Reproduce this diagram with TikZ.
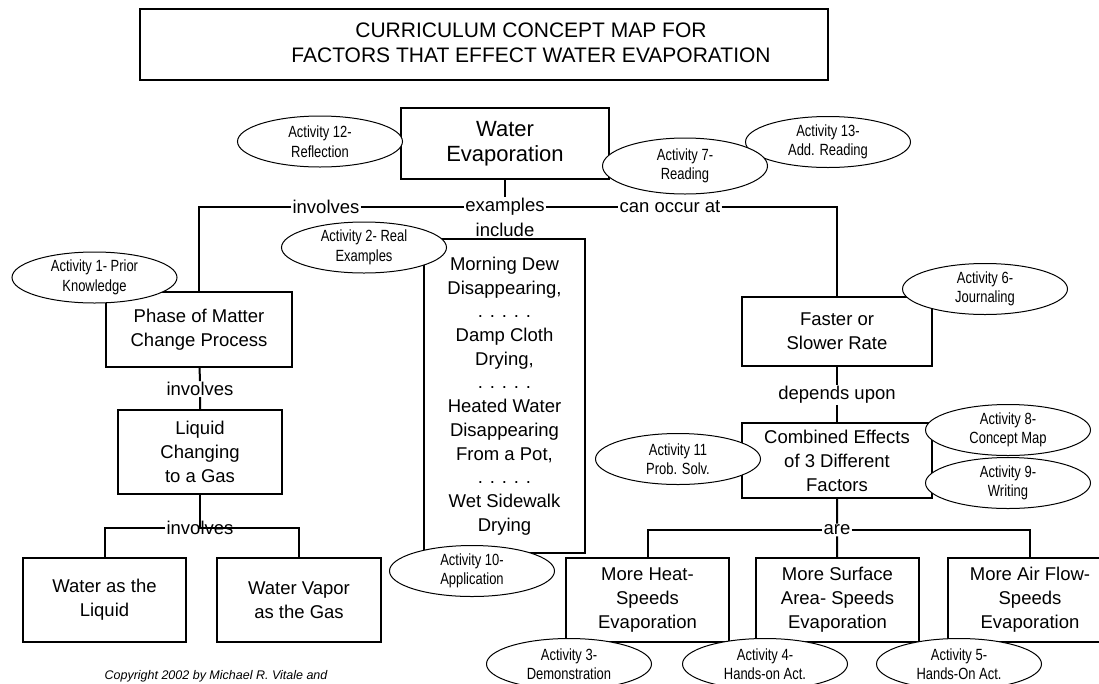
\documentclass[tikz,border=0pt]{standalone}
\usepackage{fontspec}
\setmainfont{Liberation Sans}
\newfontfamily\narrowfont[FakeStretch=0.8]{Liberation Sans}
\usetikzlibrary{shapes}

\begin{document}
\begin{tikzpicture}[x=1pt,y=-1pt]
        \tikzset{EdgeStyle/.style={line width=2pt},
                 ConceptStyle/.style={draw,line width=1.2pt,align=center,inner sep=0pt,
                                      font=\fontsize{18.5}{24}\selectfont},
                 ActivityStyle/.style={draw,ellipse,fill=white,line width=1pt,align=center,
                                       inner sep=0pt,minimum width=165pt,minimum height=51pt,
                                       font=\narrowfont\fontsize{16.2}{19.5}\selectfont},
                 LinkStyle/.style={inner sep=1pt,font=\fontsize{18.5}{23}\selectfont}}

        \useasboundingbox (0,0) rectangle (1099,683);

        \draw[line width=1.2pt] (140,9) rectangle (828,80);
        \node[align=center,font=\fontsize{21}{25}\selectfont] (T) at (531,43)
              {CURRICULUM CONCEPT MAP FOR\\FACTORS THAT EFFECT WATER EVAPORATION};

        \node[ConceptStyle,minimum width=208pt,minimum height=71pt,font=\fontsize{22}{25}\selectfont] (C1) at (505,143.5) {Water\\Evaporation};
        \node[ConceptStyle,minimum width=186pt,minimum height=75pt] (C2) at (199,329.5) {Phase of Matter\\Change Process};
        \node[ConceptStyle,minimum width=164pt,minimum height=84pt] (C3) at (200,452) {Liquid\\Changing\\to a Gas};
        \node[ConceptStyle,minimum width=163pt,minimum height=84pt] (C4) at (104.5,600) {Water as the\\Liquid};
        \node[ConceptStyle,minimum width=164pt,minimum height=84pt] (C5) at (299,600) {Water Vapor\\as the Gas};
        \node[ConceptStyle,minimum width=161pt,minimum height=314pt,font=\fontsize{18.5}{23.7}\selectfont] (C6) at (504.5,396)
              {Morning Dew\\Disappearing,\\. . . . .\\Damp Cloth\\Drying,\\. . . . .\\Heated Water\\Disappearing\\From a Pot,\\. . . . .\\Wet Sidewalk\\Drying};
        \node[ConceptStyle,minimum width=190pt,minimum height=69pt] (C7) at (837,331.5) {Faster or\\Slower Rate};
        \node[ConceptStyle,minimum width=190pt,minimum height=75pt] (C8) at (837,460.5) {Combined Effects\\of 3 Different\\Factors};
        \node[ConceptStyle,minimum width=163pt,minimum height=84pt] (C9) at (647.5,600) {More Heat-\\Speeds\\Evaporation};
        \node[ConceptStyle,minimum width=163pt,minimum height=84pt] (C10) at (837.5,600) {More Surface\\Area- Speeds\\Evaporation};
        \node[ConceptStyle,minimum width=164pt,minimum height=84pt] (C11) at (1030,600) {More Air Flow-\\Speeds\\Evaporation};

        \node[LinkStyle] (L1) at (326,207) {involves};
        \node[LinkStyle] (L2) at (505,207) {examples};
        \node[LinkStyle] (L3) at (505,230) {include};
        \node[LinkStyle] (L4) at (670,207) {can occur at};
        \node[LinkStyle] (L5) at (200,389) {involves};
        \node[LinkStyle] (L6) at (200,528) {involves};
        \node[LinkStyle] (L7) at (837,395) {depends upon};
        \node[LinkStyle] (L8) at (837,530) {are};

        \draw[EdgeStyle] (C1) -- (L2);
        \draw[EdgeStyle] (L1) -- (L2) -- (L4);
        \draw[EdgeStyle] (L1) -| (C2);
        \draw[EdgeStyle] (L4) -| (C7);
        \draw[EdgeStyle] (C2) -- (L5) -- (C3);
        \draw[EdgeStyle] (C3) -- (L6.center) -- (L6.center -| C5) -- (C5);
        \draw[EdgeStyle] (L6) -| (C4);
        \draw[EdgeStyle] (C7) -- (L7) -- (C8);
        \draw[EdgeStyle] (C8) -- (L8) -- (C10);
        \draw[EdgeStyle] (C9) |- (L8) -| (C11);

        \node[ActivityStyle] (A12) at (320,141.5) {Activity 12-\\Reflection};
        \node[ActivityStyle] (A13) at (828,142) {Activity 13-\\Add. Reading};
        \node[ActivityStyle,minimum height=56pt] (A7) at (685,166) {Activity 7-\\Reading};
        \node[ActivityStyle] (A1) at (94.5,277.5) {Activity 1- Prior\\Knowledge};
        \node[ActivityStyle] (A2) at (364,247.5) {Activity 2- Real\\Examples};
        \node[ActivityStyle] (A10) at (472,571) {Activity 10-\\Application};
        \node[ActivityStyle] (A6) at (985,289) {Activity 6-\\Journaling};
        \node[ActivityStyle] (A11) at (678,459) {Activity 11\\Prob. Solv.};
        \node[ActivityStyle] (A8) at (1008,430) {Activity 8-\\Concept Map};
        \node[ActivityStyle] (A9) at (1008,483) {Activity 9-\\Writing};
        \node[ActivityStyle] (A3) at (569,664) {Activity 3-\\Demonstration};
        \node[ActivityStyle] (A4) at (765,664) {Activity 4-\\Hands-on Act.};
        \node[ActivityStyle] (A5) at (959,664) {Activity 5-\\Hands-On Act.};

        \node[font=\itshape\fontsize{12.5}{15}\selectfont] (CR) at (216,676) {Copyright 2002 by Michael R. Vitale and};
\end{tikzpicture}
\end{document}
